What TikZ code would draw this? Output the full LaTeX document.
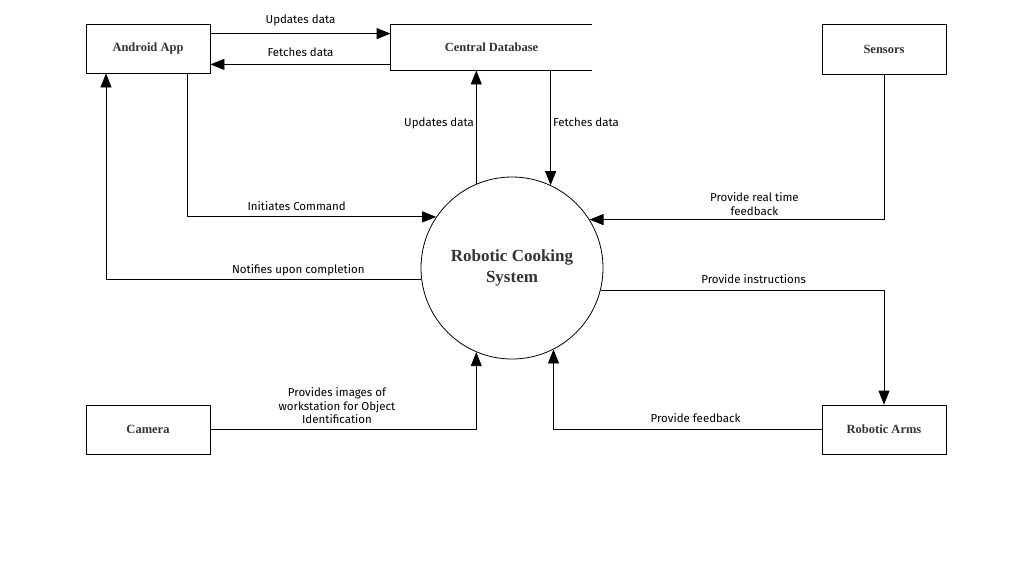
\documentclass[tikz,border=0pt]{standalone}
\usepackage{fontspec}
\usetikzlibrary{arrows.meta}
\newfontfamily\lblfont{Fira Sans}
\newfontfamily\titlefont{Liberation Serif}
\definecolor{txtgray}{HTML}{333333}
\begin{document}
\begin{tikzpicture}[x=1pt,y=-1pt,
  box/.style={draw,line width=0.8pt,minimum width=124pt,minimum height=49pt,inner sep=0pt,
    text=txtgray,font=\titlefont\bfseries\fontsize{12.5}{14}\selectfont},
  flow/.style={line width=0.8pt,-{Triangle[length=14pt,width=11pt]}},
  lbl/.style={font=\lblfont\fontsize{11.5}{13.5}\selectfont,text=black,align=center,inner sep=2pt}]
\useasboundingbox (0,0) rectangle (1020,574);
\node[box] (app) at (148,48.5) {Android App};
\node[box,draw=none,minimum width=201pt,minimum height=45pt] (db) at (491.5,47.5) {Central Database};
\draw[line width=0.8pt] (db.north east)--(db.north west)--(db.south west)--(db.south east);
\node[box,minimum height=50pt] (sens) at (884,49) {Sensors};
\node[box] (cam) at (148,429.5) {Camera};
\node[box] (arms) at (884,429.5) {Robotic Arms};
\node[circle,draw,line width=0.8pt,minimum size=182pt,inner sep=0pt,text=txtgray,align=center,
  font=\titlefont\bfseries\fontsize{17}{21}\selectfont] (sys) at (512,268) {Robotic Cooking\\System};
% app <-> database
\draw[flow] ([yshift=-10pt]app.north east)--([yshift=-10pt]app.north east -| db.west)
  node[lbl,above=5pt,pos=0.5] (l1) {Updates data};
\draw[flow] ([yshift=6pt]db.south west)--([yshift=6pt]db.south west -| app.east)
  node[lbl,above=5pt,pos=0.5] (l2) {Fetches data};
% system <-> database
\draw[flow] (sys.113.3)--(sys.113.3 |- db.south) node[lbl,left,pos=0.53] (l3) {Updates data};
\draw[flow] (sys.65.3 |- db.south)--(sys.65.3) node[lbl,right,pos=0.45] (l4) {Fetches data};
% app <-> system
\draw[flow] ([xshift=39pt]app.south)|-(sys.146.7) node[lbl,above=4pt,pos=0.72] (l5) {Initiates Command};
\draw[flow] (sys.187.6)-|([xshift=-42pt]app.south) node[lbl,above=1pt,pos=0.195] (l6) {Notifies upon completion};
% sensors, arms, camera
\draw[flow] (sens.south)|-(sys.32.6) node[lbl,above=2pt,pos=0.72] (l7) {Provide real time\\feedback};
\draw[flow] (sys.346.7)-|(arms.north) node[lbl,above=4pt,pos=0.27] (l8) {Provide instructions};
\draw[flow] (arms.west)-|(sys.297.5) node[lbl,above=4pt,pos=0.235] (l9) {Provide feedback};
\draw[flow] (cam.east)-|(sys.247.4) node[lbl,above=3pt,pos=0.238] (l10) {Provides images of\\workstation for Object\\Identification};
\end{tikzpicture}
\end{document}
